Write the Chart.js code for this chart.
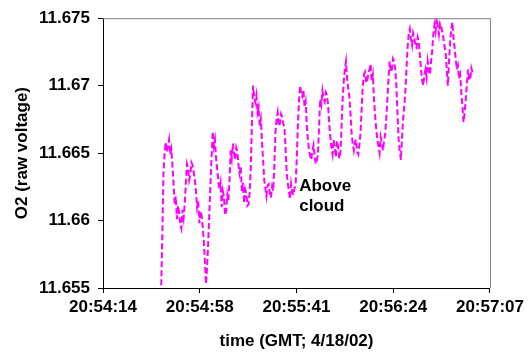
<!DOCTYPE html>
<html>
<head>
<meta charset="utf-8">
<script src="https://cdn.jsdelivr.net/npm/chart.js@4/dist/chart.umd.min.js"></script>
<style>
    html, body { margin: 0; padding: 0; background: #fff; }
    #wrap { width: 528px; height: 352px; }
</style>
</head>
<body>
<div id="wrap"><canvas id="o2Chart" width="528" height="352"></canvas></div>
<script>
// seconds after 20:54:14.4 GMT (axis origin); two samples per second from 20:54:40
const firstSample = 26;
const sampleStep = 0.5;

// O2 raw voltage
const o2Values = [
    11.6552, 11.6590, 11.6635, 11.6650, 11.6658, 11.6651, 11.6655, 11.6660, 11.6649, 11.6653,
    11.6641, 11.6628, 11.6612, 11.6618, 11.6601, 11.6611, 11.6606, 11.6597, 11.6594, 11.6608,
    11.6602, 11.6612, 11.6628, 11.6642, 11.6639, 11.6630, 11.6634, 11.6643, 11.6641, 11.6636,
    11.6630, 11.6622, 11.6610, 11.6615, 11.6598, 11.6607, 11.6604, 11.6596, 11.6585, 11.6570,
    11.6553, 11.6566, 11.6585, 11.6606, 11.6628, 11.6648, 11.6666, 11.6655, 11.6660, 11.6646,
    11.6638, 11.6630, 11.6623, 11.6628, 11.6610, 11.6622, 11.6618, 11.6604, 11.6607, 11.6619,
    11.6614, 11.6630, 11.6652, 11.6646, 11.6657, 11.6649, 11.6645, 11.6654, 11.6651, 11.6641,
    11.6635, 11.6640, 11.6622, 11.6628, 11.6613, 11.6623, 11.6620, 11.6611, 11.6612, 11.6621,
    11.6640, 11.6672, 11.6700, 11.6692, 11.6688, 11.6693, 11.6680, 11.6684, 11.6670, 11.6675,
    11.6658, 11.6645, 11.6630, 11.6624, 11.6618, 11.6626, 11.6627, 11.6620, 11.6617, 11.6625,
    11.6622, 11.6640, 11.6665, 11.6675, 11.6680, 11.6670, 11.6672, 11.6679, 11.6677, 11.6672,
    11.6669, 11.6655, 11.6636, 11.6628, 11.6622, 11.6616, 11.6627, 11.6621, 11.6619, 11.6624,
    11.6626, 11.6645, 11.6670, 11.6688, 11.6700, 11.6694, 11.6692, 11.6697, 11.6684, 11.6688,
    11.6670, 11.6660, 11.6652, 11.6648, 11.6645, 11.6652, 11.6656, 11.6648, 11.6642, 11.6644,
    11.6650, 11.6670, 11.6690, 11.6686, 11.6696, 11.6690, 11.6688, 11.6695, 11.6693, 11.6686,
    11.6672, 11.6662, 11.6654, 11.6649, 11.6660, 11.6653, 11.6647, 11.6659, 11.6655, 11.6646,
    11.6650, 11.6668, 11.6690, 11.6703, 11.6712, 11.6718, 11.6705, 11.6698, 11.6692, 11.6680,
    11.6665, 11.6657, 11.6652, 11.6658, 11.6660, 11.6651, 11.6649, 11.6656, 11.6665, 11.6683,
    11.6700, 11.6708, 11.6710, 11.6702, 11.6704, 11.6709, 11.6712, 11.6716, 11.6703, 11.6708,
    11.6690, 11.6678, 11.6668, 11.6660, 11.6655, 11.6650, 11.6662, 11.6658, 11.6652, 11.6659,
    11.6664, 11.6676, 11.6690, 11.6706, 11.6718, 11.6710, 11.6712, 11.6720, 11.6718, 11.6712,
    11.6700, 11.6680, 11.6660, 11.6652, 11.6645, 11.6660, 11.6675, 11.6684, 11.6695, 11.6712,
    11.6728, 11.6738, 11.6742, 11.6735, 11.6730, 11.6739, 11.6736, 11.6729, 11.6728, 11.6736,
    11.6733, 11.6722, 11.6712, 11.6704, 11.6700, 11.6708, 11.6712, 11.6706, 11.6718, 11.6712,
    11.6708, 11.6718, 11.6726, 11.6738, 11.6745, 11.6740, 11.6750, 11.6744, 11.6738, 11.6746,
    11.6744, 11.6740, 11.6735, 11.6729, 11.6725, 11.6712, 11.6700, 11.6718, 11.6732, 11.6742,
    11.6747, 11.6736, 11.6728, 11.6720, 11.6712, 11.6715, 11.6705, 11.6708, 11.6695, 11.6685,
    11.6673, 11.6680, 11.6690, 11.6702, 11.6712, 11.6704, 11.6705, 11.6713, 11.6710
];

// axis ticks: Excel major unit of 0.0005 day = 43.2 s
const xTickSeconds = [0, 43.2, 86.4, 129.6, 172.8];
const xTickLabels = ['20:54:14', '20:54:58', '20:55:41', '20:56:24', '20:57:07'];
const yTickValues = [11.655, 11.66, 11.665, 11.67, 11.675];
const yTickLabels = ['11.655', '11.66', '11.665', '11.67', '11.675'];

// text note placed in data coordinates
const noteLines = ['Above', 'cloud'];
const noteX = 87.6;
const noteY = [11.66257, 11.66103];

const points = o2Values.map((v, i) => ({ x: firstSample + i * sampleStep, y: v }));

const FONT = "'Liberation Sans', Arial, sans-serif";

// grey top and right edges of the plot area, plus the note
const frameAndNote = {
    id: 'frameAndNote',
    afterDatasetsDraw(chart) {
        const { ctx, chartArea: a, scales } = chart;
        ctx.save();
        ctx.strokeStyle = '#808080';
        ctx.lineWidth = 1;
        ctx.beginPath();
        ctx.moveTo(a.left, a.top + 0.5);
        ctx.lineTo(a.right + 0.5, a.top + 0.5);
        ctx.lineTo(a.right + 0.5, a.bottom);
        ctx.stroke();

        ctx.fillStyle = '#000';
        ctx.font = 'bold 17px ' + FONT;
        ctx.textAlign = 'left';
        ctx.textBaseline = 'middle';
        noteLines.forEach((t, i) => {
            ctx.fillText(t, scales.x.getPixelForValue(noteX), scales.y.getPixelForValue(noteY[i]));
        });
        ctx.restore();
    }
};

new Chart(document.getElementById('o2Chart').getContext('2d'), {
    type: 'line',
    data: {
        datasets: [{
            label: 'O2',
            data: points,
            borderColor: '#FF00FF',
            borderWidth: 2,
            borderDash: [6, 3],
            pointRadius: 0,
            tension: 0,
            fill: false
        }]
    },
    options: {
        responsive: false,
        animation: false,
        layout: { padding: { left: 0, right: 35, top: 16, bottom: 0 } },
        plugins: {
            legend: { display: false },
            tooltip: { enabled: false }
        },
        scales: {
            x: {
                type: 'linear',
                min: 0,
                max: 172.8,
                afterBuildTicks: scale => { scale.ticks = xTickSeconds.map(v => ({ value: v })); },
                afterFit: scale => { scale.height = 64; },
                ticks: {
                    autoSkip: false,
                    maxRotation: 0,
                    padding: 4,
                    color: '#000',
                    font: { family: FONT, size: 17, weight: 'bold' },
                    callback: (v, i) => xTickLabels[i]
                },
                grid: { drawOnChartArea: false, drawTicks: true, tickLength: 5, color: '#000' },
                border: { color: '#000', width: 1 },
                title: {
                    display: true,
                    text: 'time (GMT; 4/18/02)',
                    color: '#000',
                    font: { family: FONT, size: 17, weight: 'bold' },
                    padding: { top: 0, bottom: 0 }
                }
            },
            y: {
                min: 11.655,
                max: 11.675,
                afterBuildTicks: scale => { scale.ticks = yTickValues.map(v => ({ value: v })); },
                afterFit: scale => { scale.width = 103; },
                ticks: {
                    padding: 8,
                    color: '#000',
                    font: { family: FONT, size: 17, weight: 'bold' },
                    callback: (v, i) => yTickLabels[i]
                },
                grid: { drawOnChartArea: false, drawTicks: true, tickLength: 5, color: '#000' },
                border: { color: '#000', width: 1 },
                title: {
                    display: true,
                    text: 'O2 (raw voltage)',
                    color: '#000',
                    font: { family: FONT, size: 17, weight: 'bold' },
                    padding: { top: 12, bottom: 0 }
                }
            }
        }
    },
    plugins: [frameAndNote]
});
</script>
</body>
</html>
